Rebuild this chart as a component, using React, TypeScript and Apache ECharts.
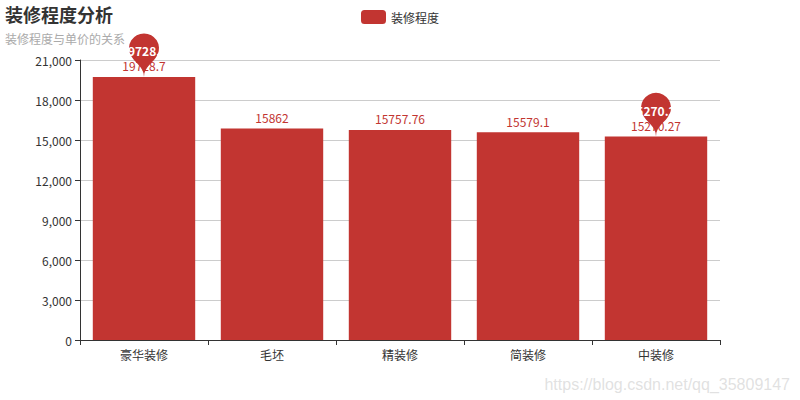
import React, { useEffect, useRef } from "react";
import * as echarts from "echarts";

const categories = ["豪华装修", "毛坯", "精装修", "简装修", "中装修"];
const prices = [19728.7, 15862, 15757.76, 15579.1, 15270.27];
const titleText = "装修程度分析";
const subtitleText = "装修程度与单价的关系";
const seriesName = "装修程度";
const watermark = "https://blog.csdn.net/qq_35809147";

const FONT = "'Microsoft YaHei', 'Noto Sans CJK SC', sans-serif";

export default function App() {
  const ref = useRef<HTMLDivElement>(null);
  useEffect(() => {
    document.body.style.margin = "0";
    const chart = echarts.init(ref.current!, null, { renderer: "svg" });
    chart.setOption({
      animation: false,
      color: ["#c23531"],
      textStyle: { fontFamily: FONT },
      title: {
        text: titleText,
        subtext: subtitleText,
        left: 0,
        top: 0,
        padding: 5,
        itemGap: 10,
        textStyle: { fontSize: 18, fontWeight: "bold", color: "#333", fontFamily: FONT },
        subtextStyle: { fontSize: 12, color: "#aaa", fontFamily: FONT },
      },
      legend: {
        data: [seriesName],
        top: 5,
        left: "center",
        itemWidth: 25,
        itemHeight: 14,
        icon: "roundRect",
        textStyle: { color: "#333", fontSize: 12, fontFamily: FONT },
      },
      grid: {
        left: 80,
        right: 80,
        top: 60,
        bottom: 60,
        containLabel: false,
        outerBoundsMode: "none",
      },
      xAxis: {
        type: "category",
        data: categories,
        axisLine: { show: true, lineStyle: { color: "#333" } },
        axisTick: { show: true, lineStyle: { color: "#333" } },
        axisLabel: { color: "#333", fontSize: 12, margin: 8 },
        splitLine: { show: false },
      },
      yAxis: {
        type: "value",
        min: 0,
        max: 21000,
        interval: 3000,
        axisLine: { show: true, lineStyle: { color: "#333" } },
        axisTick: { show: true, lineStyle: { color: "#333" } },
        axisLabel: { color: "#333", fontSize: 12, margin: 8 },
        splitLine: { show: true, lineStyle: { color: "#ccc" } },
      },
      series: [
        {
          name: seriesName,
          type: "bar",
          data: prices,
          barCategoryGap: "20%",
          itemStyle: { color: "#c23531" },
          label: {
            show: true,
            position: "top",
            color: "#c23531",
            fontSize: 12,
            fontFamily: FONT,
          },
          markPoint: {
            symbol: "pin",
            symbolSize: 50,
            label: { color: "#fff", fontSize: 12, fontWeight: "bold", fontFamily: FONT },
            itemStyle: { color: "#c23531" },
            data: [
              { type: "max", name: "最大值" },
              { type: "min", name: "最小值" },
            ],
          },
        },
      ],
      graphic: [
        {
          type: "text",
          right: 10,
          bottom: 8,
          z: 100,
          style: {
            text: watermark,
            fill: "rgba(200,200,200,0.55)",
            font: "16px 'Liberation Sans', Arial, sans-serif",
          },
        },
      ],
    });
    return () => chart.dispose();
  }, []);
  return (
    <div
      ref={ref}
      style={{ width: 800, height: 400, position: "absolute", left: 0, top: 0 }}
    />
  );
}
